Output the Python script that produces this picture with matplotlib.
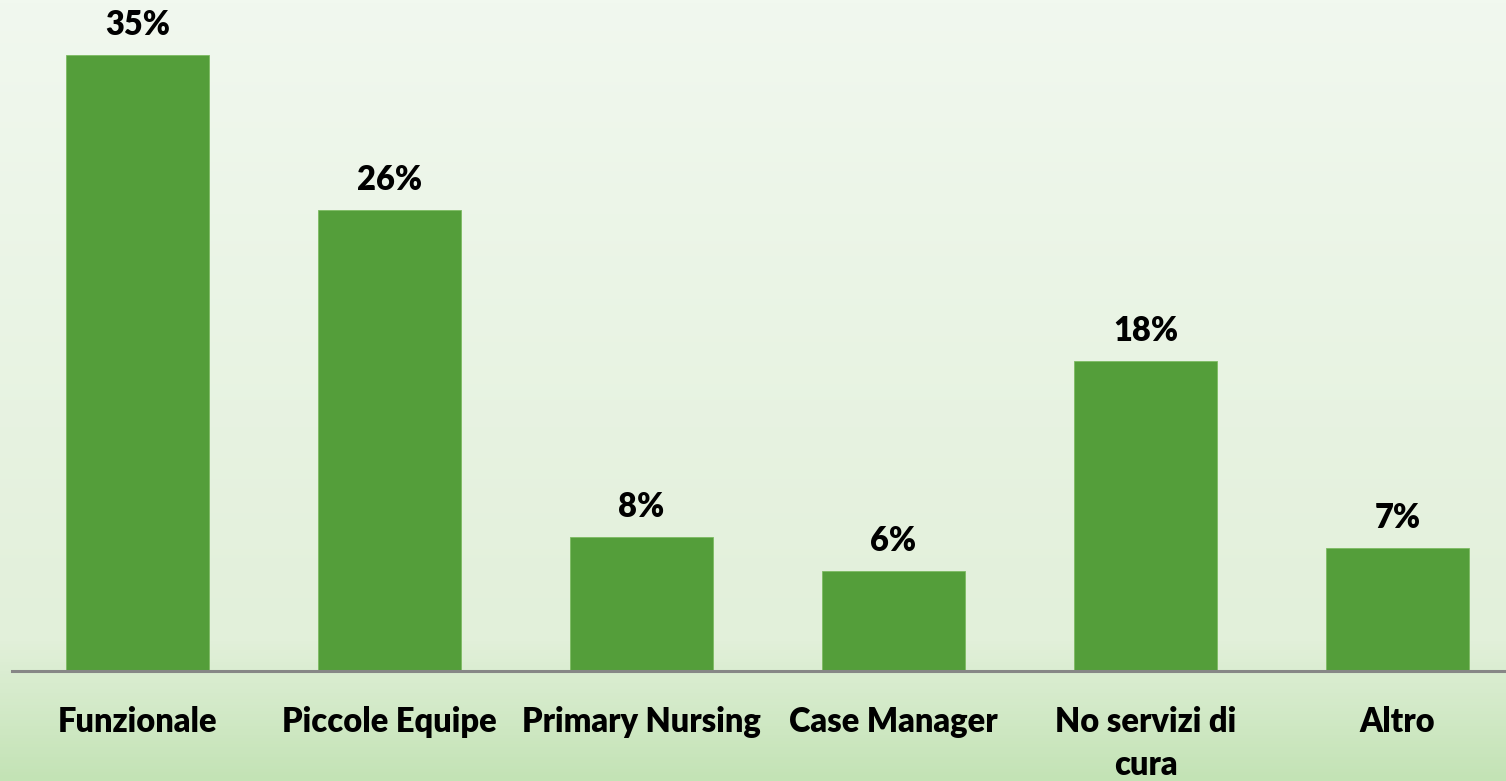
import matplotlib.pyplot as plt
import numpy as np
from matplotlib.colors import LinearSegmentedColormap

categories = ['Funzionale', 'Piccole Equipe', 'Primary Nursing', 'Case Manager',
              'No servizi di\ncura', 'Altro']
values = [35.0, 26.2, 7.6, 5.7, 17.6, 7.0]
labels = ['35%', '26%', '8%', '6%', '18%', '7%']

W, H = 1506, 781
fig = plt.figure(figsize=(W / 100, H / 100), dpi=100)

# background gradient
bg = fig.add_axes([0, 0, 1, 1], zorder=0)
cmap = LinearSegmentedColormap.from_list(
    'bg', [(0, '#f1f8ef'), (0.82, '#e2f0da'), (1.0, '#c3e3b5')])
grad = np.linspace(0, 1, 256).reshape(-1, 1)
bg.imshow(grad, aspect='auto', cmap=cmap, extent=[0, 1, 0, 1], origin='upper')
bg.axis('off')

# main axes: left at x=11.5px, baseline at y=671px, top at y=0
left = 11.5 / W
bottom = (H - 671) / H
ax = fig.add_axes([left, bottom, 1 - left, 671 / H], zorder=1)
ax.patch.set_alpha(0)

slot = 252
x = np.arange(len(categories))
ax.bar(x, values, width=143 / slot, color='#549e3a', edgecolor='#7dbb62',
       linewidth=0.6, zorder=2)
ax.set_xlim(-0.5, (W - 11.5) / slot - 0.5)
ax.set_ylim(0, 671 / 17.6)

font = dict(family=['Lato', 'DejaVu Sans'], weight='heavy', size=23.5)
for xi, v, lab in zip(x, values, labels):
    ax.annotate(lab, (xi, v), xytext=(0, 20), textcoords='offset pixels',
                ha='center', va='baseline', color='black', **font)

ax.set_xticks(x)
ax.set_xticklabels(categories, linespacing=1.45, **font)
ax.tick_params(axis='x', length=0, pad=25)
ax.set_yticks([])
for s in ['top', 'right', 'left']:
    ax.spines[s].set_visible(False)
ax.spines['bottom'].set_color('#878787')
ax.spines['bottom'].set_linewidth(2.2)

fig.savefig('out.png', dpi=100)
